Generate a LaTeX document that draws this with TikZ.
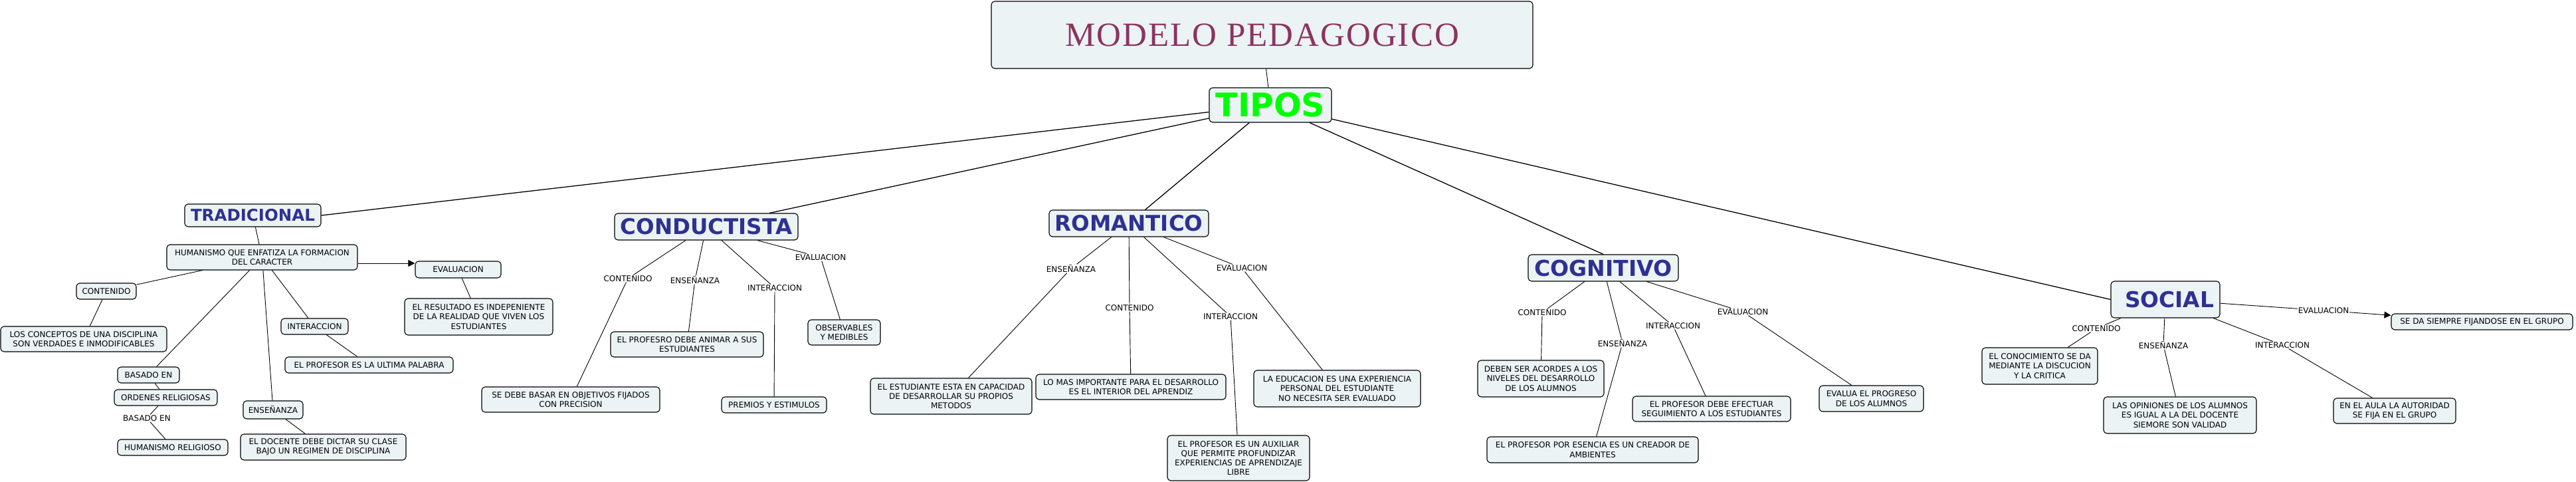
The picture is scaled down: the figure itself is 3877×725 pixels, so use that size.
\documentclass[tikz,border=0pt]{standalone}
\usepackage{fontspec}
\setmainfont{DejaVu Sans}
\newfontfamily\titleserif[LetterSpace=4]{Liberation Serif}
\usetikzlibrary{arrows.meta}
\definecolor{boxfill}{RGB}{236,243,245}
\definecolor{titleblue}{RGB}{46,49,146}
\definecolor{modelored}{RGB}{140,52,96}
\definecolor{tiposgreen}{RGB}{0,255,0}
\begin{document}
\begin{tikzpicture}[x=1pt,y=-1pt,
  box/.style={draw=black, line width=1.1pt, rounded corners=5pt, fill=boxfill, align=center, inner sep=0pt, font=\fontsize{12}{14.3}\selectfont},
  lab/.style={inner sep=0.8pt, font=\fontsize{12}{14.3}\selectfont},
  conn/.style={draw=black, line width=0.9pt},
  mainconn/.style={draw=black, line width=1.3pt},
  arr/.style={draw=black, line width=0.9pt, -{Triangle[length=10pt,width=10pt]}},
  ttl/.style={font=\bfseries\fontsize{#1}{#1}\selectfont, text=titleblue}
]
\useasboundingbox (0,0) rectangle (3877,725);

% top
\node[box, minimum width=815pt, minimum height=101pt, text=modelored, font={\titleserif\fontsize{51}{51}\selectfont}] (modelo) at (1899.5,52.5) {MODELO PEDAGOGICO};
\node[box, minimum width=184pt, minimum height=52pt, text=tiposgreen, font=\bfseries\fontsize{49}{49}\selectfont] (tipos) at (1912,158) {TIPOS};

% main categories
\node[box, minimum width=205pt, minimum height=34pt, ttl=24.5] (trad) at (380.5,324) {TRADICIONAL};
\node[box, minimum width=276pt, minimum height=40pt, ttl=32.5] (cond) at (1063,341) {CONDUCTISTA};
\node[box, minimum width=240pt, minimum height=40pt, ttl=32.5] (rom) at (1699,336) {ROMANTICO};
\node[box, minimum width=226pt, minimum height=40pt, ttl=33] (cog) at (2413,403) {COGNITIVO};
\node[box, minimum width=164pt, minimum height=55pt, ttl=32.8] (soc) at (3259,450.5) {\hspace*{12pt}SOCIAL};

% tradicional
\node[box, minimum width=287pt, minimum height=38pt] (hum) at (394.5,387) {HUMANISMO QUE ENFATIZA LA FORMACION\\DEL CARACTER};
\node[box, minimum width=129pt, minimum height=25pt] (teval) at (689.5,405.5) {EVALUACION};
\node[box, minimum width=223pt, minimum height=55pt] (tres) at (720.5,476.5) {EL RESULTADO ES INDEPENIENTE\\DE LA REALIDAD QUE VIVEN LOS\\ESTUDIANTES};
\node[box, minimum width=90pt, minimum height=24pt] (tcont) at (160,438) {CONTENIDO};
\node[box, minimum width=250pt, minimum height=38pt] (tlos) at (126,510) {LOS CONCEPTOS DE UNA DISCIPLINA\\SON VERDADES E INMODIFICABLES};
\node[box, minimum width=93pt, minimum height=24pt] (tbas) at (223.5,564) {BASADO EN};
\node[box, minimum width=155pt, minimum height=24pt] (tord) at (249.5,598) {ORDENES RELIGIOSAS};
\node[lab] (tbaslab) at (221,629) {BASADO EN};
\node[box, minimum width=166pt, minimum height=24pt] (thr) at (260,673) {HUMANISMO RELIGIOSO};
\node[box, minimum width=101pt, minimum height=24pt] (tint) at (473.5,491) {INTERACCION};
\node[box, minimum width=253pt, minimum height=24pt] (tprof) at (555.5,549) {EL PROFESOR ES LA ULTIMA PALABRA};
\node[box, minimum width=90pt, minimum height=27pt] (tens) at (411,616.5) {ENSEÑANZA};
\node[box, minimum width=249pt, minimum height=39pt] (tdoc) at (486.5,672.5) {EL DOCENTE DEBE DICTAR SU CLASE\\BAJO UN REGIMEN DE DISCIPLINA};

% conductista
\node[lab] (ccont) at (945,419) {CONTENIDO};
\node[lab] (cens) at (1046,421) {ENSEÑANZA};
\node[lab] (cint) at (1166,433) {INTERACCION};
\node[lab] (ceval) at (1235,387) {EVALUACION};
\node[box, minimum width=268pt, minimum height=38pt] (cbas) at (859,601) {SE DEBE BASAR EN OBJETIVOS FIJADOS\\CON PRECISION};
\node[box, minimum width=230pt, minimum height=38pt] (cprof) at (1034,518) {EL PROFESRO DEBE ANIMAR A SUS\\ESTUDIANTES};
\node[box, minimum width=158pt, minimum height=24pt] (cprem) at (1165,609) {PREMIOS Y ESTIMULOS};
\node[box, minimum width=109pt, minimum height=38pt] (cobs) at (1270.5,500) {OBSERVABLES\\Y MEDIBLES};

% romantico
\node[lab] (rens) at (1612,404) {ENSEÑANZA};
\node[lab] (rcont) at (1700,463) {CONTENIDO};
\node[lab] (rint) at (1852,476) {INTERACCION};
\node[lab] (reval) at (1869,403) {EVALUACION};
\node[box, minimum width=243pt, minimum height=54pt] (rest) at (1431.5,596) {EL ESTUDIANTE ESTA EN CAPACIDAD\\DE DESARROLLAR SU PROPIOS\\METODOS};
\node[box, minimum width=286pt, minimum height=38pt] (rlo) at (1702,582) {LO MAS IMPORTANTE PARA EL DESARROLLO\\ES EL INTERIOR DEL APRENDIZ};
\node[box, minimum width=214pt, minimum height=68pt] (raux) at (1864,689) {EL PROFESOR ES UN AUXILIAR\\QUE PERMITE PROFUNDIZAR\\EXPERIENCIAS DE APRENDIZAJE\\LIBRE};
\node[box, minimum width=251pt, minimum height=55pt] (redu) at (2012.5,584.5) {LA EDUCACION ES UNA EXPERIENCIA\\PERSONAL DEL ESTUDIANTE\\NO NECESITA SER EVALUADO};

% cognitivo
\node[lab] (gcont) at (2321,470) {CONTENIDO};
\node[lab] (gens) at (2442,516) {ENSEÑANZA};
\node[lab] (gint) at (2518,490) {INTERACCION};
\node[lab] (geval) at (2623,469) {EVALUACION};
\node[box, minimum width=190pt, minimum height=55pt] (gdeb) at (2319,569.5) {DEBEN SER ACORDES A LOS\\NIVELES DEL DESARROLLO\\DE LOS ALUMNOS};
\node[box, minimum width=238pt, minimum height=38pt] (gpro) at (2576,615) {EL PROFESOR DEBE EFECTUAR\\SEGUIMIENTO A LOS ESTUDIANTES};
\node[box, minimum width=318pt, minimum height=39pt] (gesen) at (2397,676.5) {EL PROFESOR POR ESENCIA ES UN CREADOR DE\\AMBIENTES};
\node[box, minimum width=157pt, minimum height=39pt] (geva) at (2816.5,599.5) {EVALUA EL PROGRESO\\DE LOS ALUMNOS};

% social
\node[lab] (seval) at (3497,467) {EVALUACION};
\node[box, minimum width=273pt, minimum height=24pt] (sda) at (3735.5,484) {SE DA SIEMPRE FIJANDOSE EN EL GRUPO};
\node[lab] (scont) at (3155,494) {CONTENIDO};
\node[lab] (sens) at (3256,519) {ENSEÑANZA};
\node[lab] (sint) at (3435,519) {INTERACCION};
\node[box, minimum width=174pt, minimum height=55pt] (scon) at (3070,550.5) {EL CONOCIMIENTO SE DA\\MEDIANTE LA DISCUCION\\Y LA CRITICA};
\node[box, minimum width=230pt, minimum height=55pt] (sop) at (3281,624.5) {LAS OPINIONES DE LOS ALUMNOS\\ES IGUAL A LA DEL DOCENTE\\SIEMORE SON VALIDAD};
\node[box, minimum width=184pt, minimum height=38pt] (saula) at (3604,618) {EN EL AULA LA AUTORIDAD\\SE FIJA EN EL GRUPO};

% connectors: top
\draw[conn] (modelo) -- (tipos);
\draw[mainconn] (trad.east) -- (tipos);
\draw[mainconn] (cond) -- (tipos);
\draw[mainconn] (rom) -- (tipos);
\draw[mainconn] (cog.north) -- (tipos);
\draw[mainconn] (soc.west) -- (tipos);

% tradicional
\draw[conn] (trad) -- (hum);
\draw[arr] ([yshift=-9pt]hum.east) -- ([yshift=9.5pt]teval.west);
\draw[conn] (teval) -- (tres);
\draw[conn] (hum) -- (tcont);
\draw[conn] (tcont) -- (tlos);
\draw[conn] (hum) -- (tbas);
\draw[conn] (tbas) -- (tord);
\draw[conn] (tord) -- (tbaslab) -- (thr);
\draw[conn] (hum) -- (tint);
\draw[conn] (tint) -- (tprof);
\draw[conn] (hum) -- (tens);
\draw[conn] (tens) -- (tdoc);

% conductista
\draw[conn] (cond) -- (ccont) -- (cbas);
\draw[conn] (cond) -- (cens) -- (cprof);
\draw[conn] (cond) -- (cint) -- (cprem);
\draw[conn] (cond) -- (ceval) -- (cobs);

% romantico
\draw[conn] (rom) -- (rens) -- (rest);
\draw[conn] (rom) -- (rcont) -- (rlo);
\draw[conn] (rom) -- (rint) -- (raux);
\draw[conn] (rom) -- (reval) -- (redu);

% cognitivo
\draw[conn] (cog) -- (gcont) -- (gdeb);
\draw[conn] (cog) -- (gens) -- (gesen);
\draw[conn] (cog) -- (gint) -- (gpro);
\draw[conn] (cog) -- (geval) -- (geva);

% social
\draw[conn] (soc) -- (scont) -- (scon);
\draw[conn] (soc) -- (sens) -- (sop);
\draw[conn] (soc) -- (sint) -- (saula);
\draw[conn] (soc) -- (seval);
\draw[arr] (seval) -- (sda);
\end{tikzpicture}
\end{document}
